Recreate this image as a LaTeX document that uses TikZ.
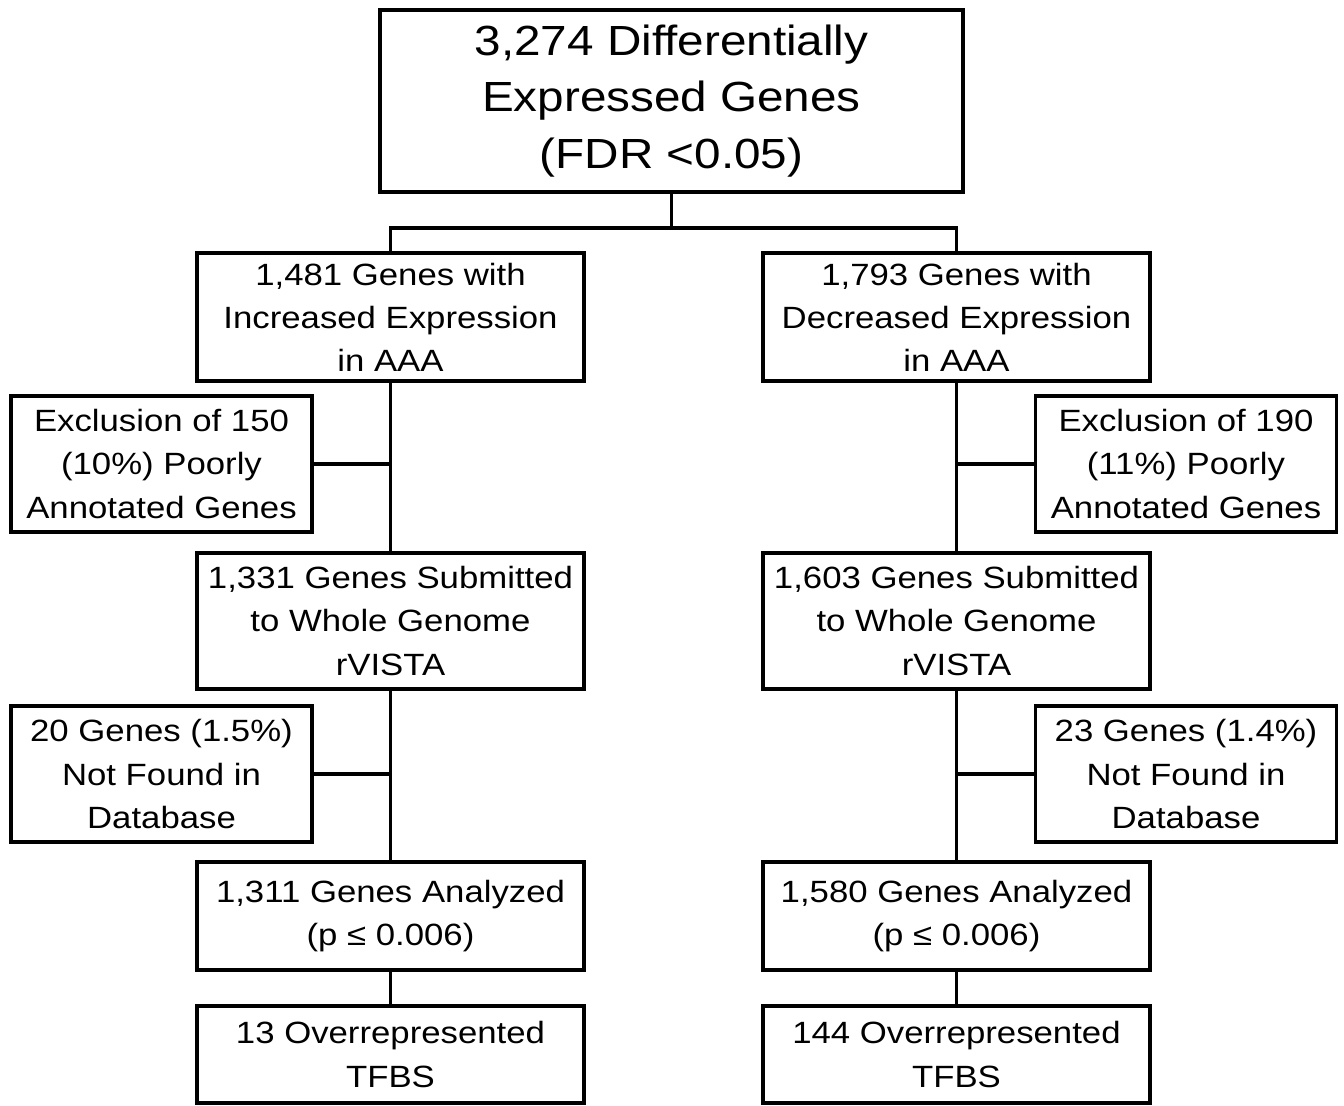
\documentclass[tikz,border=0pt]{standalone}
\usepackage{fontspec}
\setmainfont{Liberation Sans}[FakeStretch=1.13]
\begin{document}
\begin{tikzpicture}[x=0.02cm, y=-0.02cm, line join=miter, line width=2.2pt,
	box/.style={draw, align=center, inner sep=0pt, font=\fontsize{17.5}{24.5}\selectfont},
	main/.style={box, minimum width=7.74cm},
	side/.style={box, minimum width=6.02cm, minimum height=2.72cm},
	headbox/.style={box, minimum width=11.66cm, minimum height=3.64cm, font=\fontsize{24}{32}\selectfont}]
	\useasboundingbox (0,0) rectangle (1344,1105);
	\def\xl{390.5} \def\xr{956.5} \def\xsl{161.5} \def\xsr{1186}
	% top
	\node[headbox] (top) at (671.5,101) {3,274 Differentially\\Expressed Genes\\(FDR <0.05)};
	% left branch
	\node[main, minimum height=2.56cm] (l1) at (\xl,317) {1,481 Genes with\\Increased Expression\\in AAA};
	\node[side] (lex) at (\xsl,464) {Exclusion of 150\\(10\%) Poorly\\Annotated Genes};
	\node[main, minimum height=2.72cm] (l2) at (\xl,621) {1,331 Genes Submitted\\to Whole Genome\\rVISTA};
	\node[side] (lnf) at (\xsl,774) {20 Genes (1.5\%)\\Not Found in\\Database};
	\node[main, minimum height=2.16cm] (l3) at (\xl,916) {1,311 Genes Analyzed\\(p ≤ 0.006)};
	\node[main, minimum height=1.94cm] (l4) at (\xl,1054.5) {13 Overrepresented\\TFBS};
	% right branch
	\node[main, minimum height=2.56cm] (r1) at (\xr,317) {1,793 Genes with\\Decreased Expression\\in AAA};
	\node[side] (rex) at (\xsr,464) {Exclusion of 190\\(11\%) Poorly\\Annotated Genes};
	\node[main, minimum height=2.72cm] (r2) at (\xr,621) {1,603 Genes Submitted\\to Whole Genome\\rVISTA};
	\node[side] (rnf) at (\xsr,774) {23 Genes (1.4\%)\\Not Found in\\Database};
	\node[main, minimum height=2.16cm] (r3) at (\xr,916) {1,580 Genes Analyzed\\(p ≤ 0.006)};
	\node[main, minimum height=1.94cm] (r4) at (\xr,1054.5) {144 Overrepresented\\TFBS};
	% connectors
	\draw (top.south) -- ++(0,34) coordinate (split);
	\draw (split) -| (l1.north);
	\draw (split) -| (r1.north);
	\draw (l1) -- (l2) -- (l3) -- (l4);
	\draw (r1) -- (r2) -- (r3) -- (r4);
	\draw (lex.east) -- (lex.east -| l1.south);
	\draw (lnf.east) -- (lnf.east -| l1.south);
	\draw (rex.west) -- (rex.west -| r1.south);
	\draw (rnf.west) -- (rnf.west -| r1.south);
\end{tikzpicture}
\end{document}
